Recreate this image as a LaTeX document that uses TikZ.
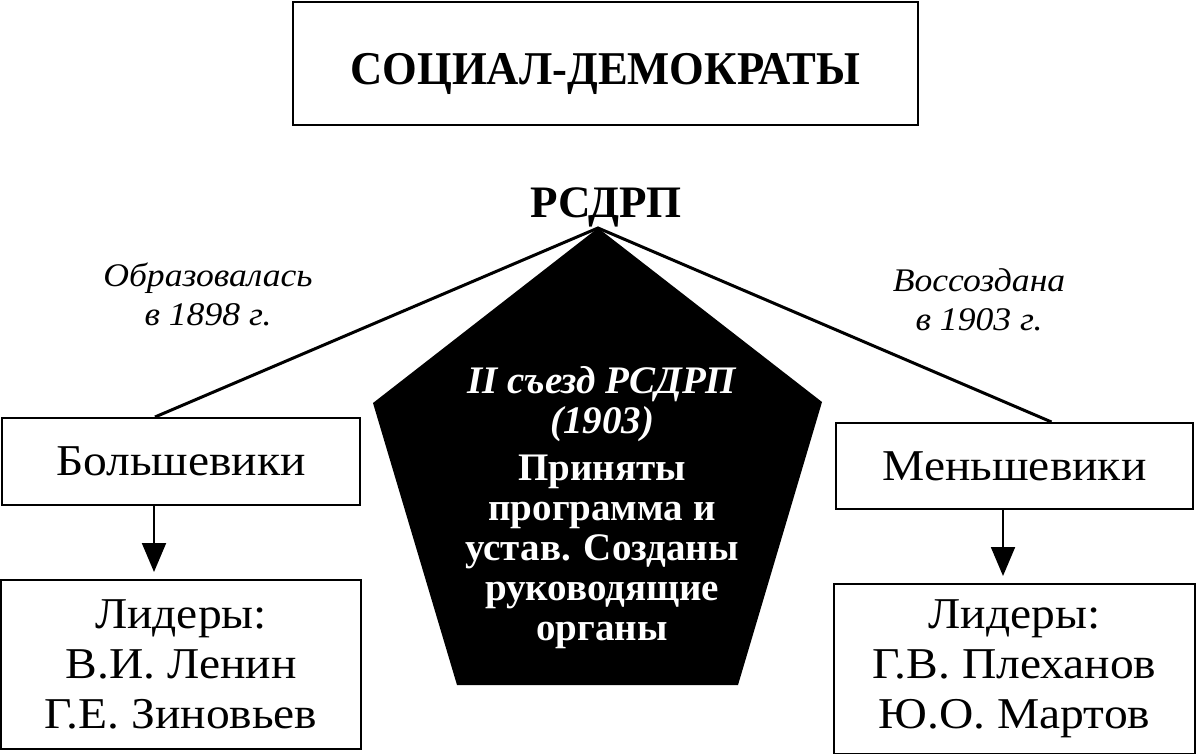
\documentclass[tikz,border=0pt]{standalone}
\usepackage{fontspec}
\setmainfont{Liberation Serif}[FakeStretch=1.08]
\newfontfamily\titlefont[FakeStretch=0.95]{Liberation Serif}
\newfontfamily\plainfont{Liberation Serif}
\usetikzlibrary{arrows.meta,positioning}

\begin{document}
\begin{tikzpicture}[x=1pt, y=-1pt,
    box/.style={draw, rectangle, line width=2pt, align=center, font=\fontsize{44}{50}\selectfont},
    note/.style={align=center, font=\fontsize{33}{39}\selectfont\itshape},
    link/.style={line width=3pt},
    arr/.style={line width=2pt, -{Triangle[width=24pt,length=29pt]}, shorten >=7pt},
    node distance=73pt
]
    \useasboundingbox (0,0) rectangle (1198,754);

    % Header
    \node[box, minimum width=625pt, minimum height=123pt, text height=43pt, text depth=0pt,
        font=\fontsize{47}{52}\selectfont\titlefont\bfseries] (sd) at (605.5,63.5) {СОЦИАЛ-ДЕМОКРАТЫ};
    \node[anchor=base, font=\fontsize{45}{50}\selectfont\plainfont\bfseries] (rsdrp) at (606,217) {РСДРП};
    \coordinate (apex) at (598,228);

    % Factions
    \node[box, minimum width=358pt, minimum height=87pt] (bol) at (181,461.5) {Большевики};
    \node[box, minimum width=357pt, minimum height=86pt] (men) at (1014.5,466) {Меньшевики};
    \node[box, minimum width=360pt, minimum height=169pt, below=of bol] (bolL) {Лидеры:\\В.И. Ленин\\Г.Е. Зиновьев};
    \node[box, minimum width=361pt, minimum height=170pt, below=of men] (menL) {Лидеры:\\Г.В. Плеханов\\Ю.О. Мартов};

    % Congress
    \fill (apex) -- (822,402) -- (738,685) -- (457,685) -- (373,403) -- cycle;
    \node[align=center, text=white, font=\fontsize{39}{40}\selectfont\plainfont\bfseries] (congress) at (602,508)
        {{\itshape II съезд РСДРП}\\{\itshape (1903)}\\[7pt]Приняты\\программа и\\устав. Созданы\\руководящие\\органы};

    % Connectors
    \draw[link] ([xshift=-26pt]bol.north) -- (apex) -- ([xshift=37pt]men.north);
    \draw[arr] ([xshift=-27pt]bol.south) -- ([xshift=-27pt]bol.south |- bolL.north);
    \draw[arr] ([xshift=-11.5pt]men.south) -- ([xshift=-11.5pt]men.south |- menL.north);

    \node[note] (formed) at (208,294) {Образовалась\\в 1898 г.};
    \node[note] (rebuilt) at (979,300) {Воссоздана\\в 1903 г.};
\end{tikzpicture}
\end{document}
